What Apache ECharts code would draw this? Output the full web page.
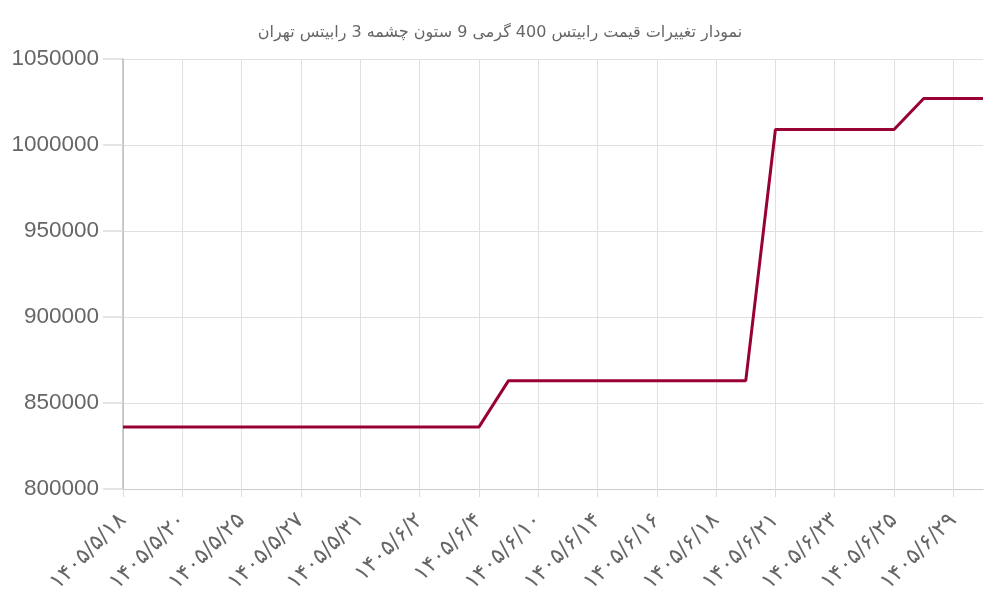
<!DOCTYPE html>
<html>
<head>
<meta charset="utf-8">
<script src="https://cdn.jsdelivr.net/npm/echarts@6/dist/echarts.min.js"></script>
<style>
  html, body { margin: 0; padding: 0; background: #fff; }
  #chart { width: 1000px; height: 600px; }
</style>
</head>
<body>
<div id="chart"></div>
<script>
// تاریخ ها (دسته ها)
const dates = [
  "۱۴۰۵/۵/۱۸", "۱۴۰۵/۵/۱۹", "۱۴۰۵/۵/۲۰", "۱۴۰۵/۵/۲۲", "۱۴۰۵/۵/۲۵", "۱۴۰۵/۵/۲۶",
  "۱۴۰۵/۵/۲۷", "۱۴۰۵/۵/۲۹", "۱۴۰۵/۵/۳۱", "۱۴۰۵/۶/۱", "۱۴۰۵/۶/۲", "۱۴۰۵/۶/۳",
  "۱۴۰۵/۶/۴", "۱۴۰۵/۶/۷", "۱۴۰۵/۶/۱۰", "۱۴۰۵/۶/۱۲", "۱۴۰۵/۶/۱۴", "۱۴۰۵/۶/۱۵",
  "۱۴۰۵/۶/۱۶", "۱۴۰۵/۶/۱۷", "۱۴۰۵/۶/۱۸", "۱۴۰۵/۶/۲۰", "۱۴۰۵/۶/۲۱", "۱۴۰۵/۶/۲۲",
  "۱۴۰۵/۶/۲۳", "۱۴۰۵/۶/۲۴", "۱۴۰۵/۶/۲۵", "۱۴۰۵/۶/۲۸", "۱۴۰۵/۶/۲۹", "۱۴۰۵/۶/۳۱"
]
// قیمت ها
const prices = [
  836000, 836000, 836000, 836000, 836000, 836000, 836000, 836000, 836000, 836000,
  836000, 836000, 836000, 863000, 863000, 863000, 863000, 863000, 863000, 863000,
  863000, 863000, 1009000, 1009000, 1009000, 1009000, 1009000, 1027000, 1027000, 1027000
]
const titleText = "نمودار تغییرات قیمت رابیتس 400 گرمی 9 ستون چشمه 3 رابیتس تهران"

const chart = echarts.init(document.getElementById("chart"))
chart.setOption({
  animation: false,
  title: {
    text: titleText,
    left: "center",
    top: 20,
    textStyle: { color: "#666", fontSize: 16, fontWeight: "normal", fontFamily: "DejaVu Sans" }
  },
  grid: { left: 123, right: 17, top: 59, bottom: 111 },
  xAxis: {
    type: "category",
    data: dates,
    boundaryGap: false,
    axisLine: { lineStyle: { color: "#ccc" } },
    axisTick: { interval: 1, length: 8, lineStyle: { color: "#ddd" } },
    axisLabel: { interval: 1, rotate: 45, color: "#666", fontSize: 22, margin: 28, fontFamily: "DejaVu Sans" },
    splitLine: { show: true, interval: 1, lineStyle: { color: "#e0e0e0" } }
  },
  yAxis: {
    type: "value",
    min: 800000,
    max: 1050000,
    interval: 50000,
    axisLine: { show: true, lineStyle: { color: "#bbb", width: 1.5 } },
    axisTick: { show: true, length: 20, lineStyle: { color: "#dcdcdc", width: 1.5 } },
    axisLabel: {
      color: "#666", fontSize: 22.5, margin: 24, fontFamily: "Liberation Sans",
      formatter: (v) => String(v)
    },
    splitLine: { lineStyle: { color: "#e0e0e0" } }
  },
  series: [{
    type: "line",
    data: prices,
    showSymbol: false,
    lineStyle: { color: "#990033", width: 3 },
    itemStyle: { color: "#990033" }
  }]
})
</script>
</body>
</html>
